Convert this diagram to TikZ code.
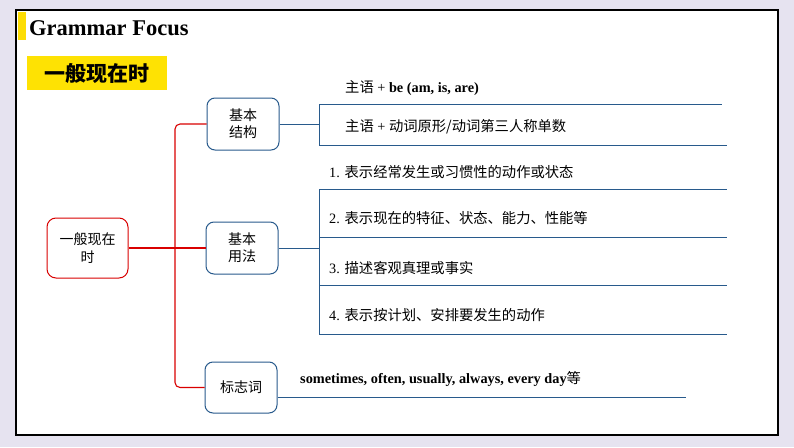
\documentclass[tikz,border=0pt]{standalone}
\usepackage{fontspec}
\setmainfont{Liberation Serif}
\newfontfamily\cjk{Noto Sans CJK SC}
\definecolor{bluel}{RGB}{40,90,140}
\begin{document}
\begin{tikzpicture}[x=1pt,y=-1pt,
  bnode/.style={draw=bluel, line width=1pt, rounded corners=8pt, align=center, font=\cjk\fontsize{14}{17}\selectfont, inner sep=0pt},
  bl/.style={draw=bluel, line width=0.9pt},
  rl/.style={draw=red!85!black, line width=1.1pt, rounded corners=5pt},
  lab/.style={anchor=west, font=\fontsize{14.3}{16}\selectfont, inner sep=0pt}]
\fill[fill={rgb,255:red,230;green,227;blue,240}] (0,0) rectangle (794,447);
\useasboundingbox (0,0) rectangle (794,447);
\draw[fill=white, line width=1.5pt] (16,10) rectangle (778,435);
\fill[yellow!80!orange] (18,12) rectangle (26,40);
\node[anchor=west, font=\bfseries\fontsize{22.5}{25}\selectfont, inner sep=0pt] (title) at (29,28) {Grammar Focus};
\node[fill=yellow!85!orange, minimum width=140pt, minimum height=34pt, font=\cjk\bfseries\fontsize{21}{24}\selectfont, anchor=north west, inner sep=0pt] (tag) at (27,56) {一般现在时};
\node[draw=red!85!black, line width=1pt, rounded corners=9pt, align=center, minimum width=81pt, minimum height=60pt, font=\cjk\fontsize{14}{18}\selectfont, inner sep=0pt] (root) at (87.5,248) {一般现在\\时};
\node[bnode, minimum width=72pt, minimum height=52pt] (n1) at (243,124) {基本\\结构};
\node[bnode, minimum width=72pt, minimum height=52pt] (n2) at (242,248) {基本\\用法};
\node[bnode, minimum width=72pt, minimum height=51pt] (n3) at (241,387.5) {标志词};
\coordinate (j) at (175,248);
\draw[rl] (root.east) -- (n2.west);
\draw[rl] (n1.west) -| (j) |- (n3.west);
% group 1
\coordinate (b1t) at (319,104); \coordinate (b1b) at (319,145);
\draw[bl] (n1.east) -- (319,124);
\draw[bl] (b1t) -- (b1b);
\draw[bl] (b1t) -- (722,104);
\draw[bl] (b1b) -- (727,145);
\node[lab] (t1) at (345,88) {{\cjk 主语} + \textbf{be (am, is, are)}};
\node[lab] (t2) at (345,127) {{\cjk 主语} + {\cjk 动词原形/动词第三人称单数}};
% group 2
\coordinate (b2t) at (319,189); \coordinate (b2b) at (319,334);
\draw[bl] (n2.east) -- (319,248);
\draw[bl] (b2t) -- (b2b);
\foreach \yy in {189,237,285,334} \draw[bl] (319,\yy) -- (727,\yy);
\node[lab] (u1) at (329,172) {1. {\cjk 表示经常发生或习惯性的动作或状态}};
\node[lab] (u2) at (329,218) {2. {\cjk 表示现在的特征、状态、能力、性能等}};
\node[lab] (u3) at (329,268) {3. {\cjk 描述客观真理或事实}};
\node[lab] (u4) at (329,315) {4. {\cjk 表示按计划、安排要发生的动作}};
% group 3
\coordinate (e3) at (686,397);
\draw[bl] (n3.east |- e3) -- (e3);
\node[lab] (s) at (300,379) {\textbf{sometimes, often, usually, always, every day}{\cjk 等}};
\end{tikzpicture}
\end{document}
